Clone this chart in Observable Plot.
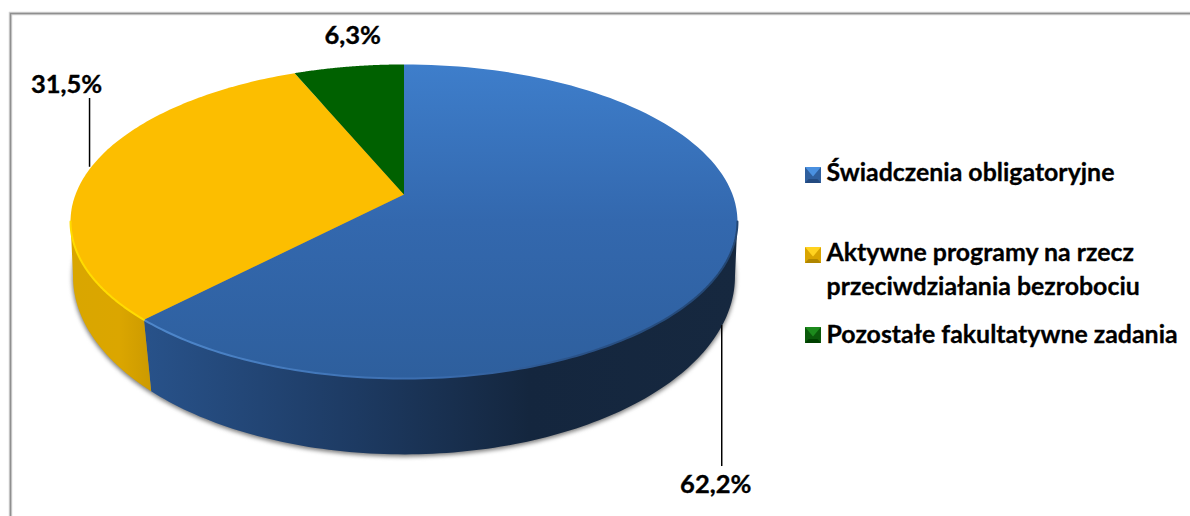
<!DOCTYPE html>
<html><head><meta charset="utf-8">
<script src="https://cdn.jsdelivr.net/npm/d3@7"></script>
<script src="https://cdn.jsdelivr.net/npm/@observablehq/plot@0.6"></script>
<style>html,body{margin:0;padding:0;background:#fff}svg{display:block}</style>
</head><body><div id="chart"></div>
<script>
const values = [62.2, 31.5, 6.3];
const valueLabels = ["62,2%", "31,5%", "6,3%"];
const legendNames = ["Świadczenia obligatoryjne", "Aktywne programy na rzecz\nprzeciwdziałania bezrobociu", "Pozostałe fakultatywne zadania"];
const topFills = ["url(#blueTop)", "#fcbe00", "#006100"];
const legendMid = ["#2f5f9e", "#d9a400", "#0b5a0b"];
const legendLight = ["#4a90e0", "#ffd21f", "#1c8a1c"];
const legendDark = ["#234a80", "#b08600", "#004000"];
const markerRows = [174.5, 254.5, 334.5];
const textRows = [170, 267, 332];

// Perspective view of the pie's top circle and of its lower edge
const tilt = 0.172, baseTilt = 0.14, baseDrop = 0.374, baseX = 0.9976, baseY = 1.145;
const total = d3.sum(values);
const cum = d3.cumsum(values);
const angle = p => p / total * 2 * Math.PI;
const topPt = a => { const w = 1 + tilt * Math.cos(a); return {x: Math.sin(a) / w, y: Math.cos(a) / w}; };
const basePt = a => { const w = 1 + baseTilt * Math.cos(a); return {x: baseX * Math.sin(a) / w, y: baseY * Math.cos(a) / w - baseDrop}; };
const sweep = (a0, a1, f) => d3.range(0, 121).map(i => f(a0 + (a1 - a0) * i / 120));
const starts = values.map((v, i) => angle(cum[i] - v));
const ends = values.map((v, i) => angle(cum[i]));
const mids = starts.map((s, i) => (s + ends[i]) / 2);
const wedge = i => [{x: 0, y: 0}, ...sweep(starts[i], ends[i], topPt)];
const topEdgeR = Math.acos(-tilt), baseEdgeR = Math.acos(-baseTilt);
const turn = 2 * Math.PI;

const defs = () => {
  const d = d3.create("svg:defs");
  const grad = (id, x2, y2, stops) => {
    const g = d.append("linearGradient").attr("id", id).attr("x1", 0).attr("y1", 0).attr("x2", x2).attr("y2", y2);
    stops.forEach(([o, c]) => g.append("stop").attr("offset", o).attr("stop-color", c));
  };
  grad("blueTop", 0, 1, [[0, "#3e7ecb"], [0.5, "#3368ae"], [1, "#2e5f9d"]]);
  grad("blueSide", 1, 0, [[0, "#28528a"], [0.36, "#1d3a62"], [0.65, "#14263e"], [1, "#16283f"]]);
  grad("yellowSide", 1, 0, [[0, "#d9a600"], [0.6, "#dba600"], [1, "#cc9a00"]]);
  grad("blueRim", 1, 0, [[0, "#4f88cc"], [0.5, "#3a6cae"], [0.72, "#2a5288"], [1, "#234672"]]);
  return d.node();
};

const at = (x, y) => ({frameAnchor: "top-left", dx: x - 10, dy: y - 13});
const bevel = (corners) => ({draw(c, size) {
  const h = Math.sqrt(size) / 2;
  corners.forEach(([x, y], i) => i ? c.lineTo(x * h, y * h) : c.moveTo(x * h, y * h));
  c.closePath();
}});
const labelStyle = {fontFamily: "Lato", fontWeight: 700, fontSize: 25.5, fill: "#000", stroke: "#000", strokeWidth: 0.35};
const legendStyle = {fontFamily: "Lato", fontWeight: 700, fontSize: 24.9, fill: "#000", stroke: "#000", strokeWidth: 0.3, textAnchor: "start", lineAnchor: "middle", lineHeight: 1.36};

const yellowMid = topPt(mids[1]);
const blueMid = basePt(mids[0]);
const greenMid = topPt(mids[2]);
const leaderTop = 0.63, leaderBottom = -1.785, leaderBlueStart = -0.86;

const marks = [
  defs,
  Plot.frame({stroke: "#d4d4d4", strokeWidth: 3.5}),
  Plot.frame({stroke: "#8f8f8f", strokeWidth: 1.5}),
  Plot.line(sweep(0, turn, basePt), {x: "x", y: "y", fill: "#7d7d7d", stroke: "#7d7d7d", strokeWidth: 1.5, imageFilter: "blur(2px)", dy: 1.5}),
  Plot.line([...sweep(topEdgeR, ends[0], topPt), ...sweep(ends[0], baseEdgeR, basePt)], {x: "x", y: "y", fill: "url(#blueSide)"}),
  Plot.line([...sweep(starts[1], turn - topEdgeR, topPt), ...sweep(turn - baseEdgeR, starts[1], basePt)], {x: "x", y: "y", fill: "url(#yellowSide)"}),
  Plot.line(wedge(0), {x: "x", y: "y", fill: topFills[0]}),
  Plot.line(wedge(1), {x: "x", y: "y", fill: topFills[1]}),
  Plot.line(wedge(2), {x: "x", y: "y", fill: topFills[2]}),
  Plot.line(sweep(topEdgeR, ends[0], topPt), {x: "x", y: "y", stroke: "url(#blueRim)", strokeWidth: 2, imageFilter: "blur(0.7px)"}),
  Plot.line(sweep(starts[1], turn - topEdgeR, topPt), {x: "x", y: "y", stroke: "#ffdc00", strokeWidth: 2, imageFilter: "blur(0.6px)"}),
  Plot.ruleX([yellowMid.x], {y1: yellowMid.y, y2: leaderTop, dx: -1.5, stroke: "#000", strokeWidth: 1.5}),
  Plot.ruleX([blueMid.x], {y1: leaderBlueStart, y2: leaderBottom, dx: -3, stroke: "#000", strokeWidth: 1.5}),
  Plot.text([valueLabels[0]], {x: blueMid.x, y: leaderBottom, text: d => d, dx: -9, dy: 18, ...labelStyle}),
  Plot.text([valueLabels[1]], {x: yellowMid.x, y: leaderTop, text: d => d, dx: -24.5, dy: -14, ...labelStyle}),
  Plot.text([valueLabels[2]], {x: greenMid.x, y: greenMid.y, text: d => d, dx: 4, dy: -30.5, ...labelStyle}),
  ...legendNames.flatMap((name, i) => {
    const y = markerRows[i], r = 9;
    return [
      Plot.dot([i], {...at(812.5, y), r, fill: legendMid[i], symbol: bevel([[-1, -1], [1, -1], [1, 1], [-1, 1]])}),
      Plot.dot([i], {...at(812.5, y), r, fill: legendLight[i], symbol: bevel([[-1, -1], [1, -1], [0, 0.2]])}),
      Plot.dot([i], {...at(812.5, y), r, fill: legendDark[i], symbol: bevel([[-1, 1], [1, 1], [0.55, 0.5], [-0.55, 0.5]])}),
      Plot.text([name], {...at(826, textRows[i]), text: d => d, ...legendStyle})
    ];
  })
];

const plot = Plot.plot({
  width: 1190, height: 516,
  marginLeft: 10, marginTop: 13, marginRight: -6, marginBottom: -6,
  style: {background: "#fff", overflow: "hidden"},
  x: {domain: [-1, 1], range: [75, 732], axis: null},
  y: {domain: [-1, 1], range: [346.4, 41.6], axis: null},
  marks
});
document.getElementById("chart").append(plot);
</script></body></html>
